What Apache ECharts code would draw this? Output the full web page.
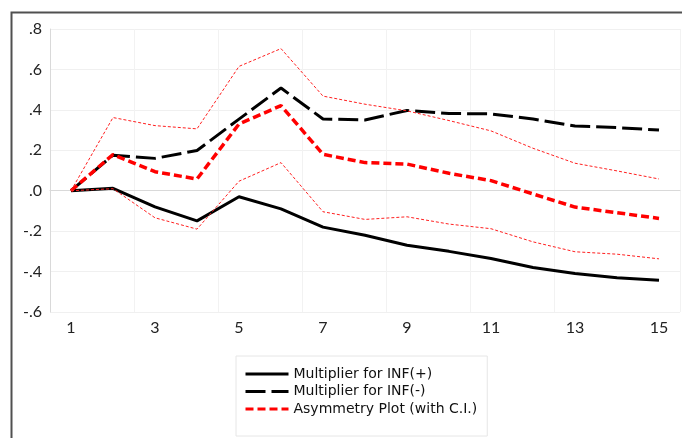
<!DOCTYPE html>
<html>
<head>
<meta charset="utf-8">
<script src="https://cdn.jsdelivr.net/npm/echarts@6/dist/echarts.min.js"></script>
<style>
html,body{margin:0;padding:0;background:#fff;}
#c{width:682px;height:438px;}
</style>
</head>
<body>
<div id="c"></div>
<script>
const categories = ['1','2','3','4','5','6','7','8','9','10','11','12','13','14','15'];
const infPlus  = [0, 0.012, -0.08, -0.149, -0.03, -0.09, -0.18, -0.22, -0.27, -0.30, -0.335, -0.38, -0.41, -0.43, -0.443];
const infMinus = [0, 0.176, 0.16, 0.199, 0.354, 0.508, 0.355, 0.35, 0.397, 0.382, 0.38, 0.355, 0.32, 0.312, 0.30];
const asym     = [0, 0.179, 0.094, 0.058, 0.33, 0.421, 0.18, 0.139, 0.132, 0.086, 0.05, -0.016, -0.081, -0.109, -0.137];
const ciUpper  = [0, 0.362, 0.322, 0.306, 0.615, 0.703, 0.468, 0.428, 0.395, 0.347, 0.296, 0.21, 0.136, 0.098, 0.058];
const ciLower  = [0, 0.01, -0.134, -0.19, 0.047, 0.139, -0.104, -0.142, -0.129, -0.165, -0.188, -0.253, -0.302, -0.314, -0.337];
const legendNames = ['Multiplier for INF(+)', 'Multiplier for INF(-)', 'Asymmetry Plot (with C.I.)'];

const FONT = 'Lato';
const LFONT = 'DejaVu Sans';
const dashLong = [20, 6];
const dashRed = [8, 4];
const chart = echarts.init(document.getElementById('c'), null, {renderer:'canvas'});
chart.setOption({
  animation: false,
  backgroundColor: '#fff',
  graphic: [{
    type: 'rect', left: 9, top: 10, z: 100, silent: true,
    shape: {x: 0, y: 0, width: 720, height: 460},
    style: {fill: 'none', stroke: '#505050', lineWidth: 2}
  }],
  grid: {left: 50, right: 2, top: 29, bottom: 126, containLabel: false},
  legend: {
    orient: 'vertical', left: 236, top: 356,
    data: [
      {name: legendNames[0], lineStyle: {type: 'solid', width: 3, color: '#000'}},
      {name: legendNames[1], lineStyle: {type: dashLong, width: 3, color: '#000'}},
      {name: legendNames[2], lineStyle: {type: dashRed, width: 3, color: '#ff0000'}}
    ],
    itemWidth: 43, itemHeight: 12, itemGap: 3.5,
    itemStyle: {opacity: 0},
    padding: [11, 10, 20, 8],
    borderColor: '#e6e6e6', borderWidth: 1,
    textStyle: {fontFamily: LFONT, fontSize: 14, lineHeight: 12, color: '#111'},
    selectedMode: false
  },
  xAxis: {
    type: 'category', data: categories, boundaryGap: true,
    axisLine: {show: true, lineStyle: {color: '#d9d9d9', width: 1}},
    axisTick: {show: false},
    axisLabel: {interval: 1, fontFamily: FONT, fontSize: 16, color: '#222', margin: 8},
    splitLine: {show: true, interval: (i) => i % 2 === 0 && i < 14, lineStyle: {color: '#f2f2f2', width: 1}}
  },
  yAxis: {
    type: 'value', min: -0.6, max: 0.8, interval: 0.2,
    axisLine: {show: true, lineStyle: {color: '#d9d9d9', width: 1}},
    axisTick: {show: false},
    axisLabel: {
      fontFamily: FONT, fontSize: 16, color: '#222', margin: 8,
      formatter: v => { const s = (Math.round(v*10)/10).toFixed(1); return s.replace('0.', '.'); }
    },
    splitLine: {show: true, lineStyle: {color: '#f0f0f0', width: 1}}
  },
  series: [
    {name: legendNames[0], type: 'line', data: infPlus, symbol: 'none', z: 3,
     lineStyle: {color: '#000', width: 3, type: 'solid'}, itemStyle: {color: '#000'}},
    {name: legendNames[1], type: 'line', data: infMinus, symbol: 'none', z: 3,
     lineStyle: {color: '#000', width: 3, type: dashLong}, itemStyle: {color: '#000'}},
    {name: legendNames[2], type: 'line', data: asym, symbol: 'none', z: 4,
     lineStyle: {color: '#ff0000', width: 3.5, type: dashRed}, itemStyle: {color: '#ff0000'}},
    {name: 'CI upper', type: 'line', data: ciUpper, symbol: 'none', z: 5,
     lineStyle: {color: '#ff2020', width: 1, type: [3, 2]}, itemStyle: {color: '#ff0000'}},
    {name: 'CI lower', type: 'line', data: ciLower, symbol: 'none', z: 5,
     lineStyle: {color: '#ff2020', width: 1, type: [3, 2]}, itemStyle: {color: '#ff0000'}}
  ]
});
</script>
</body>
</html>
